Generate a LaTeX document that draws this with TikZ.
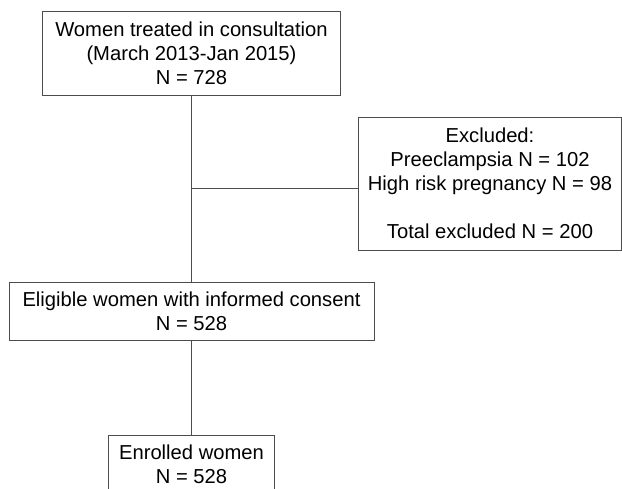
\documentclass[tikz,border=0pt]{standalone}
\usepackage{fontspec}
\setmainfont{Liberation Sans}
\usepackage{tikz}
\usetikzlibrary{calc}

\begin{document}
\begin{tikzpicture}[x=1pt,y=-1pt,
  box/.style={draw=black!70,line width=0.9pt,align=center,inner sep=0pt,
    font=\fontsize{20.2}{24}\selectfont}]

\useasboundingbox (0,0) rectangle (622,488);

\node[box,minimum width=298pt,minimum height=84pt] (treated) at (191.5,53)
  {Women treated in consultation\\(March 2013-Jan 2015)\\N = 728};
\node[box,minimum width=263pt,minimum height=133pt] (excl) at (490,183.5)
  {Excluded:\\Preeclampsia N = 102\\High risk pregnancy N = 98\\[24pt]Total excluded N = 200};
\node[box,minimum width=365pt,minimum height=58pt] (elig) at (191.5,311)
  {Eligible women with informed consent\\N = 528};
\node[box,minimum width=166pt,minimum height=58pt] (enrol) at (191.5,464)
  {Enrolled women\\N = 528};

\coordinate (jn) at (191.5,188);

\draw[black!70,line width=0.9pt] (treated)--(elig);
\draw[black!70,line width=0.9pt] (jn)--(jn -| excl.west);
\draw[black!70,line width=0.9pt] (elig)--(enrol);

\end{tikzpicture}
\end{document}
